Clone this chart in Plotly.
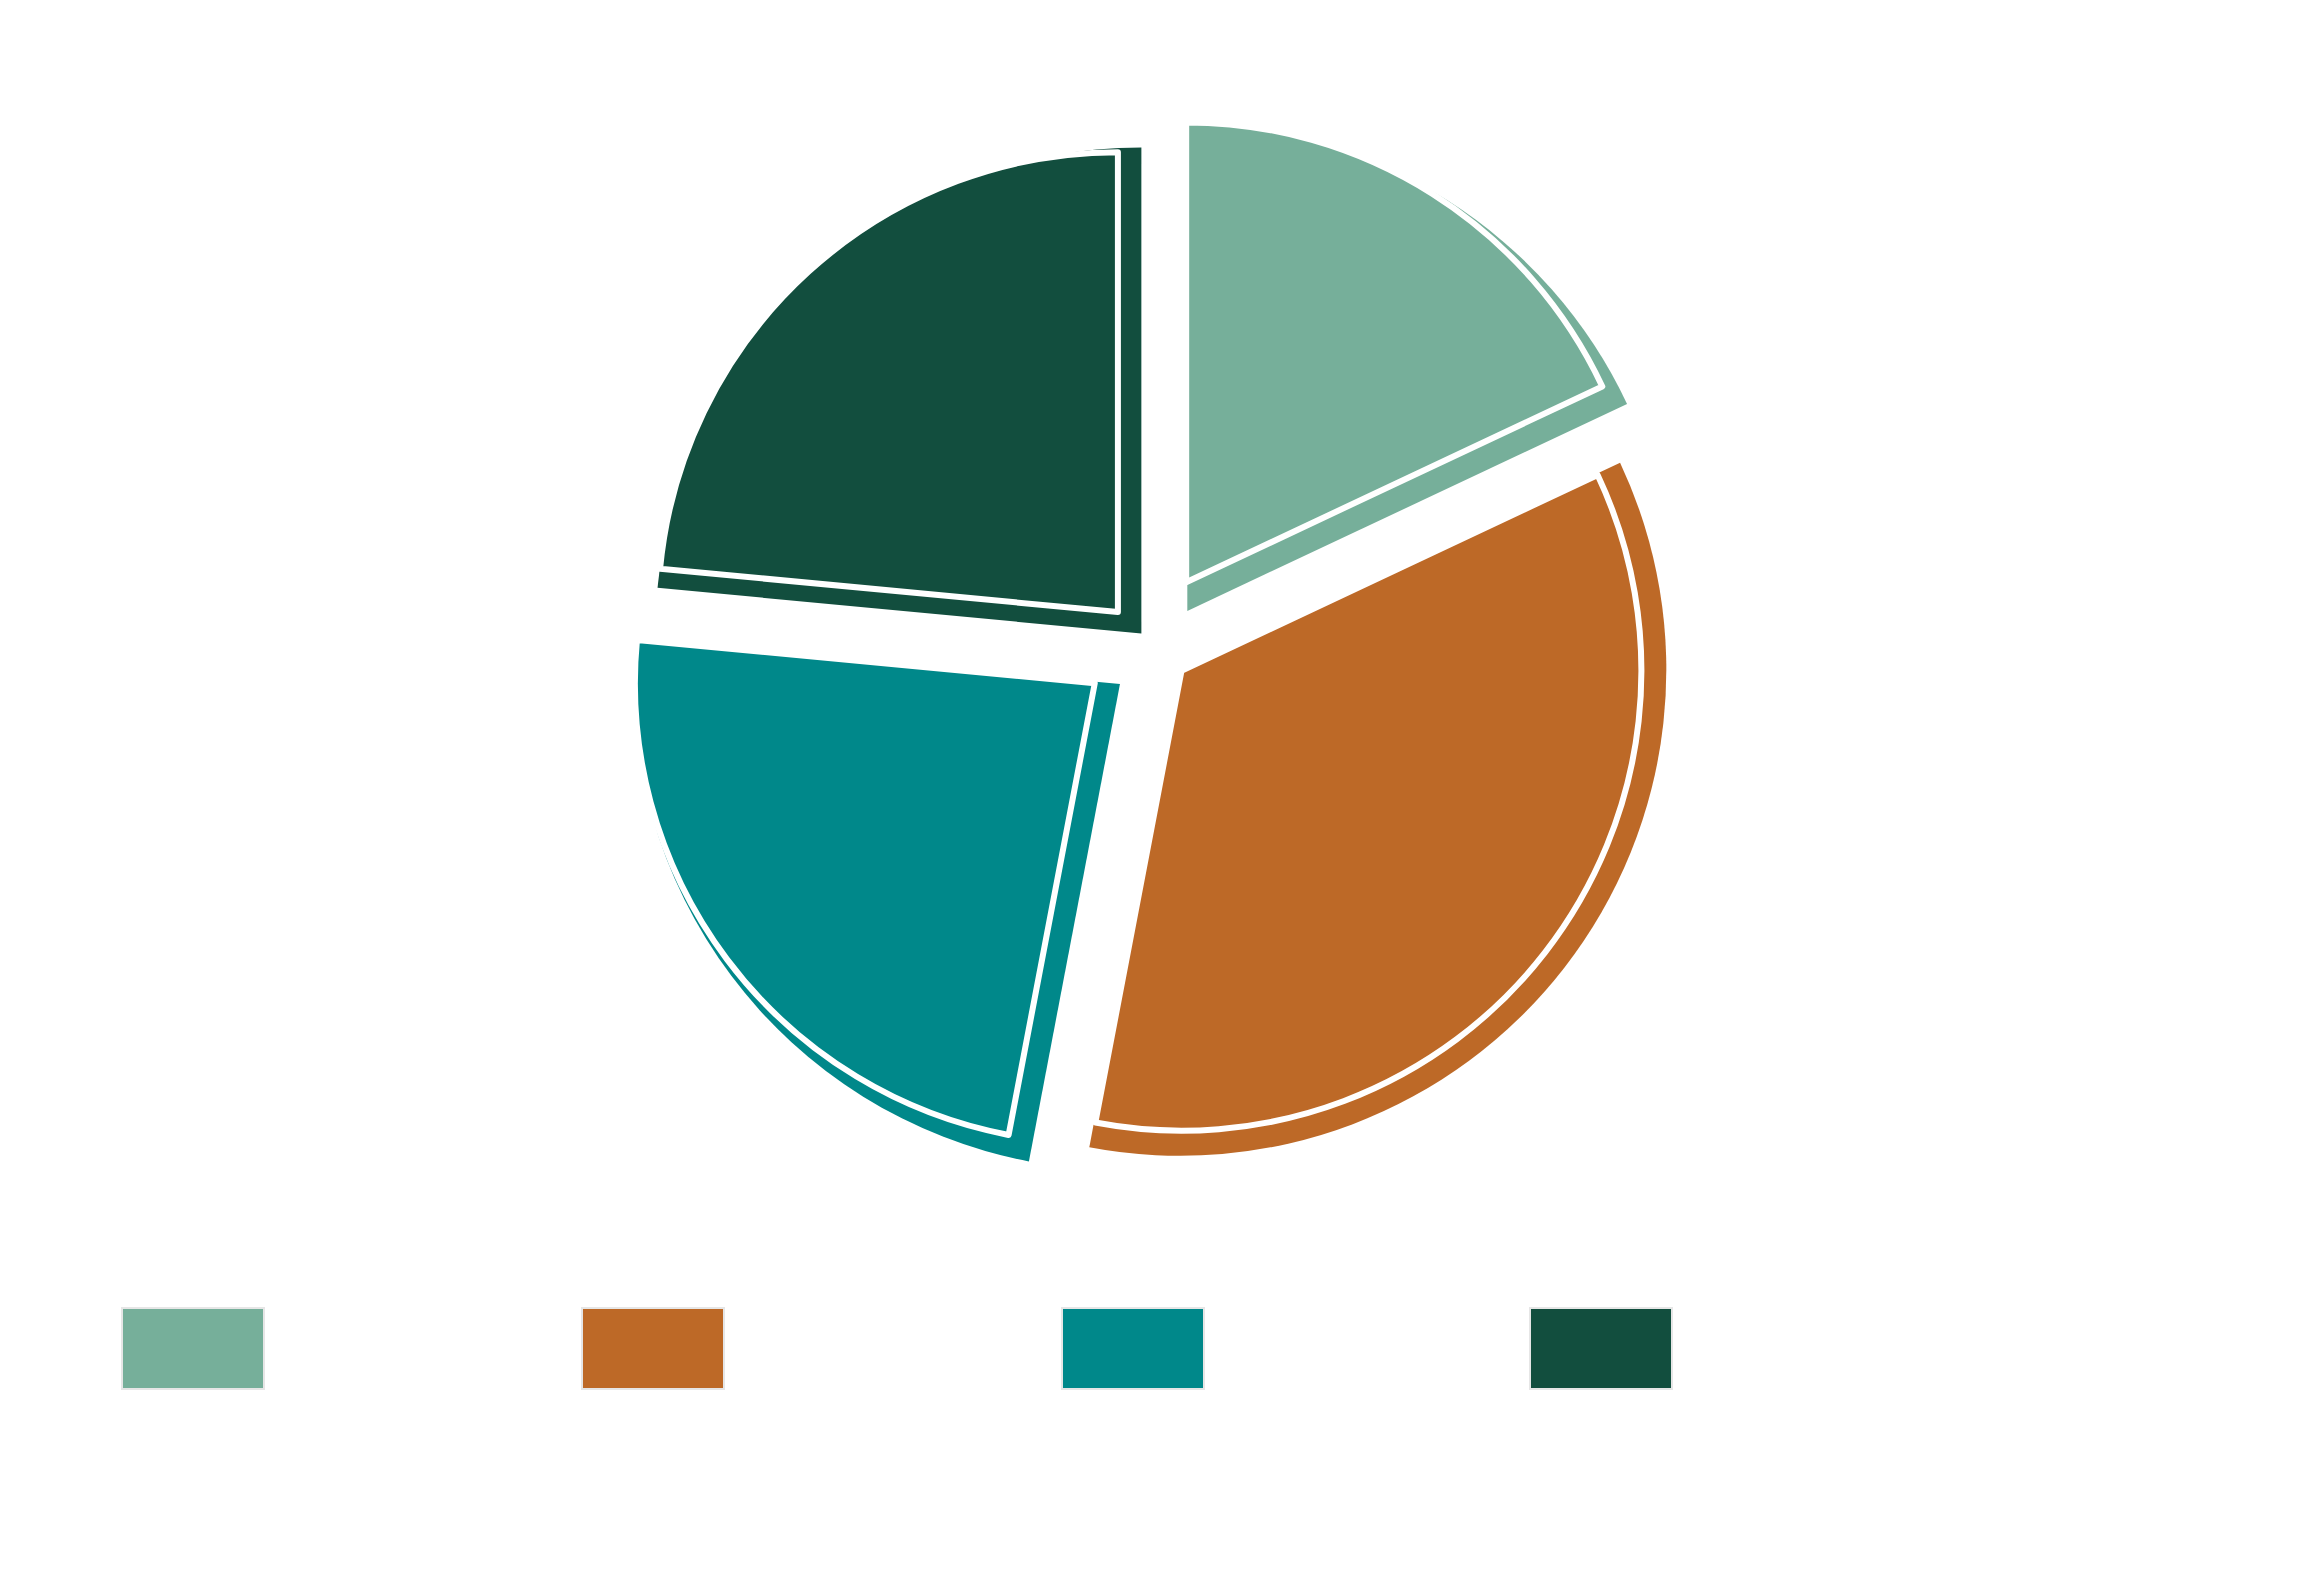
import plotly.graph_objects as go

# Data
categories = ["Category A", "Category B", "Category C", "Category D"]
values = [18, 35, 23.5, 23.5]
colors = ["#76AF9A", "#BD6927", "#00888A", "#124E3E"]
pull_back = [0.105, 0.053, 0.103, 0.057]
pull_front = [0.159, 0.095, 0.142, 0.094]

W, H = 2312, 1584

fig = go.Figure()
# back layer (slightly larger, less pulled)
fig.add_trace(go.Pie(
    labels=categories,
    values=values,
    sort=False,
    direction="clockwise",
    rotation=0,
    pull=pull_back,
    marker=dict(colors=colors, line=dict(width=0)),
    textinfo="none",
    hoverinfo="label+percent",
    showlegend=False,
    domain=dict(x=[615 / W, 1689 / W], y=[401 / H, 1475 / H]),
))
# front layer with white borders
fig.add_trace(go.Pie(
    labels=categories,
    values=values,
    sort=False,
    direction="clockwise",
    rotation=0,
    pull=pull_front,
    marker=dict(colors=colors, line=dict(color="white", width=6)),
    textinfo="none",
    hoverinfo="label+percent",
    showlegend=False,
    domain=dict(x=[606 / W, 1672 / W], y=[415 / H, 1481 / H]),
))

# legend-style swatches (no text, as in reference)
shapes = []
x0s = [114, 574, 1054, 1522]
for x0, c in zip(x0s, colors):
    shapes.append(dict(type="rect", xref="paper", yref="paper",
                       x0=x0 / W, x1=(x0 + 142) / W,
                       y0=1 - 1381 / H, y1=1 - 1300 / H,
                       fillcolor=c, line=dict(color="#e6e6e6", width=2)))

fig.update_layout(
    width=W, height=H,
    margin=dict(l=0, r=0, t=0, b=0),
    paper_bgcolor="white",
    plot_bgcolor="white",
    shapes=shapes,
)

fig.write_html("out.html")
